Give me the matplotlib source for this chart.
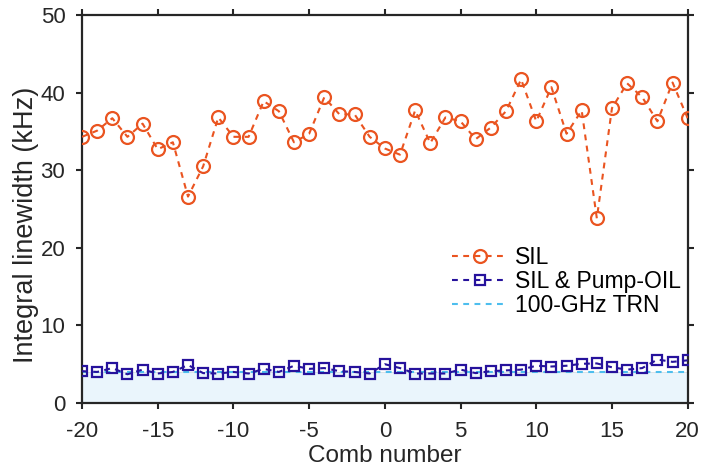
import numpy as np
import matplotlib
matplotlib.use("Agg")
import matplotlib.pyplot as plt

plt.rcParams['font.family'] = ['Liberation Sans', 'DejaVu Sans']
plt.rcParams['axes.unicode_minus'] = False

comb = list(range(-20, 21))

sil = [34.3, 35.1, 36.7, 34.3, 36.0, 32.7, 33.6, 26.6, 30.5, 36.8,
       34.3, 34.3, 38.9, 37.6, 33.6, 34.7, 39.4, 37.2, 37.2, 34.3,
       32.8, 32.0, 37.7, 33.5, 36.8, 36.3, 34.0, 35.5, 37.6, 41.7,
       36.3, 40.7, 34.7, 37.7, 23.8, 38.0, 41.2, 39.4, 36.3, 41.3, 36.7]

sil_oil = [4.1, 4.0, 4.5, 3.7, 4.3, 3.8, 4.0, 4.9, 3.85, 3.8,
           4.0, 3.8, 4.4, 4.0, 4.8, 4.4, 4.5, 4.1, 4.0, 3.8,
           5.0, 4.5, 3.8, 3.8, 3.8, 4.3, 3.85, 4.1, 4.2, 4.3,
           4.8, 4.7, 4.8, 5.05, 5.1, 4.6, 4.3, 4.5, 5.6, 5.3, 5.5]

trn_level = 4.0
trn = [trn_level] * len(comb)

orange = '#EA5420'
navy = '#26129C'
sky = '#4DBEEE'
ink = '#262626'
dash = (0, (2.8, 2.6))

fig = plt.figure(figsize=(7.01, 4.75), dpi=100)
ax = fig.add_axes([0.117, 0.1516, 0.864, 0.8168])

ax.fill_between(comb, 0, trn, color='#EAF5FC', edgecolor='#D8DEE2', linewidth=0.6, zorder=1)
ax.plot(comb, trn, linestyle=dash, color=sky, linewidth=1.5,
        label='100-GHz TRN', zorder=2)
ax.plot(comb, sil_oil, linestyle=dash, color=navy, linewidth=1.5,
        marker='s', markersize=7.5, markerfacecolor='none', markeredgewidth=1.6,
        markeredgecolor=navy, label='SIL & Pump-OIL', zorder=3)
ax.plot(comb, sil, linestyle=dash, color=orange, linewidth=1.5,
        marker='o', markersize=9.3, markerfacecolor='none', markeredgewidth=1.6,
        markeredgecolor=orange, label='SIL', zorder=4)

ax.set_xlim(-20, 20)
ax.set_ylim(0, 50)
ax.set_xticks(range(-20, 21, 5))
ax.set_yticks(range(0, 51, 10))
ax.set_xlabel('Comb number', fontsize=17.5, labelpad=2, color=ink)
ax.set_ylabel('Integral linewidth (kHz)', fontsize=19.5, color=ink)
ax.yaxis.set_label_coords(-0.071, 0.46)

ax.tick_params(direction='out', length=4, width=1.5, labelsize=16, colors=ink,
               top=True, right=True)
ax.tick_params(axis='x', labeltop=False, pad=9)
ax.tick_params(axis='y', labelright=False, pad=8)
for s in ax.spines.values():
    s.set_linewidth(1.6)
    s.set_color(ink)

handles, labels = ax.get_legend_handles_labels()
order = [2, 1, 0]
ax.legend([handles[i] for i in order], [labels[i] for i in order],
          loc='upper left', bbox_to_anchor=(0.6106, 0.405), frameon=False,
          borderaxespad=0, borderpad=0,
          fontsize=16.5, handlelength=2.45, handletextpad=0.3, labelspacing=0.05)

fig.savefig('out.png', dpi=100)
